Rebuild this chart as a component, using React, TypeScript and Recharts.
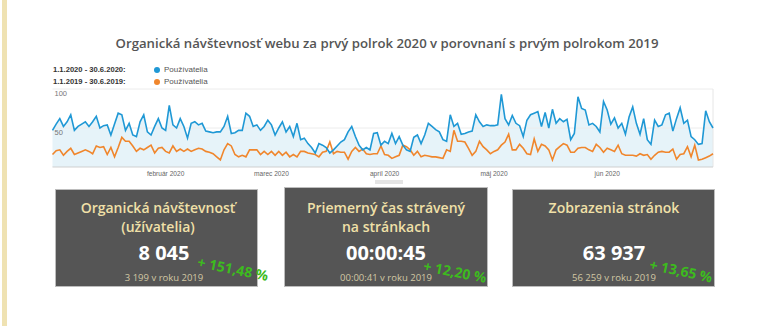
import React from "react";
import { ComposedChart, Area, Line, XAxis, YAxis, ReferenceLine } from "recharts";

const users2020 = [
  47, 55, 62, 52, 58, 67, 47, 52, 55, 58, 52, 58, 65, 50, 53, 54, 41, 55, 69, 67,
  47, 56, 41, 39, 58, 67, 45, 41, 52, 62, 50, 47, 79, 54, 50, 62, 52, 37, 56, 58,
  54, 56, 46, 45, 44, 45, 45, 52, 65, 43, 44, 47, 47, 69, 65, 52, 54, 47, 52, 60,
  54, 41, 50, 58, 45, 52, 39, 56, 35, 37, 30, 25, 18, 30, 28, 25, 18, 22, 27, 32,
  35, 45, 52, 39, 28, 22, 25, 22, 43, 44, 28, 33, 30, 43, 30, 39, 28, 22, 20, 38,
  41, 30, 41, 56, 52, 48, 45, 35, 33, 67, 52, 56, 42, 43, 45, 46, 67, 58, 52, 54,
  53, 53, 54, 93, 62, 54, 66, 56, 53, 39, 60, 67, 69, 71, 52, 70, 50, 74, 56, 62,
  58, 61, 35, 43, 90, 75, 73, 54, 56, 52, 45, 84, 73, 55, 63, 50, 56, 42, 64, 77,
  56, 42, 62, 35, 29, 60, 52, 54, 67, 69, 46, 62, 76, 56, 60, 39, 35, 29, 30, 72,
  58, 50,
];

const users2019 = [
  16, 21, 22, 15, 20, 24, 16, 18, 20, 22, 20, 17, 27, 25, 26, 16, 25, 13, 25, 38,
  33, 33, 27, 20, 24, 22, 25, 28, 18, 24, 25, 20, 18, 27, 20, 23, 20, 23, 20, 22,
  24, 23, 20, 19, 17, 13, 9, 22, 30, 27, 16, 13, 15, 13, 22, 22, 22, 16, 20, 16,
  20, 15, 20, 15, 19, 13, 16, 13, 20, 20, 18, 17, 16, 13, 19, 20, 32, 17, 20, 19,
  19, 10, 20, 25, 20, 23, 17, 16, 17, 17, 27, 16, 15, 11, 13, 15, 28, 26, 22, 15,
  20, 13, 15, 14, 13, 13, 12, 11, 22, 20, 47, 33, 33, 32, 24, 15, 20, 33, 26, 22,
  17, 20, 22, 28, 32, 42, 22, 22, 29, 24, 17, 16, 36, 20, 29, 27, 22, 9, 22, 26,
  30, 28, 19, 19, 24, 25, 25, 22, 20, 29, 25, 19, 24, 22, 20, 28, 17, 15, 15, 15,
  14, 17, 15, 16, 10, 15, 19, 20, 19, 19, 23, 10, 16, 17, 26, 13, 28, 9, 10, 12,
  14, 17,
];

const monthTickIdx = [31, 60, 91, 121, 152];
const monthTickLabels = ["február 2020", "marec 2020", "apríl 2020", "máj 2020", "jún 2020"];
const yTicks = [50, 100];
const legendRanges = ["1.1.2020 - 30.6.2020:", "1.1.2019 - 30.6.2019:"];
const legendName = "Používatelia";
const chartTitle = "Organická návštevnosť webu za prvý polrok 2020 v porovnaní s prvým polrokom 2019";
const cardTitles = [["Organická návštevnosť", "(užívatelia)"], ["Priemerný čas strávený", "na stránkach"], ["Zobrazenia stránok"]];
const cardValues = ["8 045", "00:00:45", "63 937"];
const cardPrevious = ["3 199 v roku 2019", "00:00:41 v roku 2019", "56 259 v roku 2019"];
const cardChanges = ["+ 151,48 %", "+ 12,20 %", "+ 13,65 %"];

const data = users2020.map((v, i) => ({ day: i, cur: v, prev: users2019[i] }));

const BLUE = "#1f98d5";
const ORANGE = "#f0862c";

function T({ x, y, children, style, align = "center", rot = 0 }: any) {
  const tx = align === "center" ? "-50%" : "0";
  return (
    <div
      style={{
        position: "absolute",
        left: x,
        top: y,
        transform: `translate(${tx}, -50%) rotate(${rot}deg)`,
        whiteSpace: "nowrap",
        lineHeight: 1,
        ...style,
      }}
    >
      {children}
    </div>
  );
}

const cardBoxes = [
  { left: 55, top: 189, width: 203, height: 98, cx: 158, vx: 164, gx: 233, gy: 269, rot: 11.5 },
  { left: 284, top: 187, width: 204, height: 100, cx: 386, vx: 386, gx: 455, gy: 272, rot: 11 },
  { left: 512, top: 189, width: 203, height: 98, cx: 614, vx: 614, gx: 681, gy: 271, rot: 12 },
];

export default function App() {
  const titleFont = "'Open Sans', 'Noto Sans', sans-serif";
  const gaFont = "'Liberation Sans', Arial, sans-serif";
  return (
    <div style={{ position: "absolute", left: 0, top: 0, width: 768, height: 326, background: "#fff", overflow: "hidden" }}>
      <div style={{ position: "absolute", left: 2, top: 0, width: 5, height: 326, background: "#efe2b2" }} />
      <T x={387} y={44} style={{ fontFamily: titleFont, fontWeight: 600, fontSize: 13.2, color: "#555" }}>
        {chartTitle}
      </T>
      {legendRanges.map((r, k) => (
        <React.Fragment key={r}>
          <T x={53} y={70 + k * 11.5} align="left" style={{ fontFamily: gaFont, fontWeight: 700, fontSize: 7.6, color: "#333" }}>
            {r}
          </T>
          <div
            style={{
              position: "absolute",
              left: 154,
              top: 67 + k * 11.5,
              width: 6,
              height: 6,
              borderRadius: 3,
              background: k === 0 ? BLUE : ORANGE,
            }}
          />
          <T x={164} y={70 + k * 11.5} align="left" style={{ fontFamily: gaFont, fontSize: 8, color: "#555" }}>
            {legendName}
          </T>
        </React.Fragment>
      ))}
      <div style={{ position: "absolute", left: 0, top: 0 }}>
        <ComposedChart width={768} height={326} data={data} margin={{ top: 89, right: 55, bottom: 147, left: 52.5 }}>
          <XAxis
            type="number"
            dataKey="day"
            domain={[0, 181]}
            ticks={monthTickIdx}
            interval={0}
            tickFormatter={(v: number) => monthTickLabels[monthTickIdx.indexOf(v)]}
            axisLine={{ stroke: "#cfcfcf" }}
            tickLine={false}
            tickSize={2}
            height={12}
            tick={{ fontSize: 6.6, fill: "#666", fontFamily: gaFont }}
          />
          <YAxis hide domain={[0, 100]} />
          {yTicks.map((t) => (
            <ReferenceLine
              key={t}
              y={t}
              stroke="#ececec"
              label={{ value: String(t), position: "insideTopLeft", offset: 2, fontSize: 7.5, fill: "#777", fontFamily: gaFont }}
            />
          ))}
          <ReferenceLine x={181} stroke="#e6e6e6" />
          <Area type="linear" dataKey="cur" stroke="none" fill="#058dc7" fillOpacity={0.1} isAnimationActive={false} />
          <Line type="linear" dataKey="prev" stroke={ORANGE} strokeWidth={1.6} dot={false} isAnimationActive={false} />
          <Line type="linear" dataKey="cur" stroke={BLUE} strokeWidth={1.6} dot={false} isAnimationActive={false} />
        </ComposedChart>
      </div>
      <div style={{ position: "absolute", left: 375, top: 180, width: 28, height: 4, background: "#e4e4e4" }} />
      {cardBoxes.map((b, k) => (
        <React.Fragment key={k}>
          <div
            style={{
              position: "absolute",
              left: b.left,
              top: b.top,
              width: b.width,
              height: b.height,
              background: "#555555",
              border: "1px solid #bdbdbd",
              boxSizing: "border-box",
            }}
          />
          {cardTitles[k].map((line, j) => (
            <T key={j} x={b.cx} y={208 + j * 19} style={{ fontFamily: titleFont, fontWeight: 600, fontSize: 14, color: "#f0e0a8" }}>
              {line}
            </T>
          ))}
          <T x={b.vx} y={253} style={{ fontFamily: titleFont, fontWeight: 700, fontSize: 20, color: "#ffffff" }}>
            {cardValues[k]}
          </T>
          <T x={b.vx} y={278} style={{ fontFamily: titleFont, fontSize: 9.5, color: "#d2c8a4" }}>
            {cardPrevious[k]}
          </T>
          <T x={b.gx} y={b.gy} rot={b.rot} style={{ fontFamily: titleFont, fontWeight: 700, fontSize: 14, color: "#3dbb1e" }}>
            {cardChanges[k]}
          </T>
        </React.Fragment>
      ))}
    </div>
  );
}
